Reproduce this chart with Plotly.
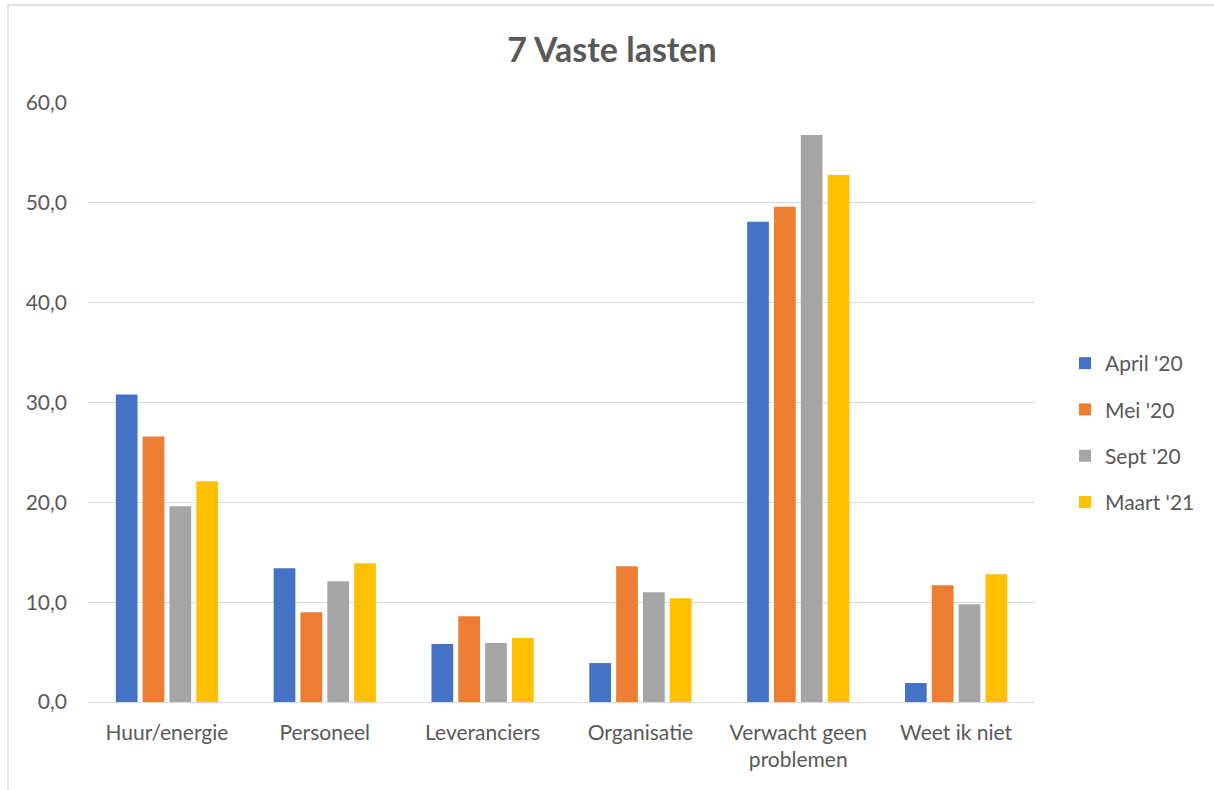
import plotly.graph_objects as go

categories = ['Huur/energie', 'Personeel', 'Leveranciers', 'Organisatie',
              'Verwacht geen<br>problemen', 'Weet ik niet']

april_20 = [30.8, 13.4, 5.8, 3.9, 48.1, 1.9]
mei_20 = [26.6, 9.0, 8.6, 13.6, 49.6, 11.7]
sept_20 = [19.6, 12.1, 5.9, 11.0, 56.8, 9.8]
maart_21 = [22.1, 13.9, 6.4, 10.4, 52.8, 12.8]

series_names = ["April '20", "Mei '20", "Sept '20", "Maart '21"]
colors = ['#4472C4', '#ED7D31', '#A5A5A5', '#FFC000']

font_family = 'Lato, Open Sans, sans-serif'
grey_text = '#595959'

W, H = 1214, 790
L, R, T, B = 88, 179, 103, 88
plot_w = W - L - R
plot_h = H - T - B

fig = go.Figure()
for name, vals, col in zip(series_names, [april_20, mei_20, sept_20, maart_21], colors):
    fig.add_trace(go.Bar(
        x=categories,
        y=vals,
        name=name,
        legendgroup=name,
        marker=dict(color=col, line=dict(width=0)),
        hovertemplate='%{x}: %{y:.1f}<extra>' + name + '</extra>',
    ))

fig.update_xaxes(
    showline=False,
    showgrid=False,
    ticks='',
    ticklabelstandoff=16,
    tickfont=dict(size=21, color=grey_text),
)

fig.update_yaxes(
    range=[0, 60],
    dtick=10,
    tickformat='.1f',
    showgrid=True,
    gridcolor='#d9d9d9',
    gridwidth=1,
    zeroline=True,
    zerolinecolor='#d9d9d9',
    zerolinewidth=1,
    showline=False,
    ticks='',
    ticklabelstandoff=20,
    tickfont=dict(size=21, color=grey_text),
)

# chart frame (left edge at 8px, top edge at 5px)
fig.add_shape(
    type='rect', xref='paper', yref='paper',
    x0=(8 - L) / plot_w, x1=(W + 20 - L) / plot_w,
    y0=(H - B - (H + 30)) / plot_h, y1=(H - B - 5) / plot_h,
    line=dict(color='#d9d9d9', width=1.5),
    fillcolor='rgba(0,0,0,0)',
    layer='below',
)

fig.update_layout(
    title=dict(
        text='<b>7 Vaste lasten</b>',
        x=612 / W, xanchor='center',
        y=1 - 50 / H, yanchor='middle',
        font=dict(size=34, color=grey_text, family=font_family),
    ),
    separators=',.',
    barmode='group',
    bargap=0.32,
    bargroupgap=0.19,
    paper_bgcolor='white',
    plot_bgcolor='white',
    width=W,
    height=H,
    margin=dict(l=L, r=R, t=T, b=B),
    font=dict(family=font_family, color=grey_text),
    legend=dict(
        x=(1065 - L) / plot_w, xanchor='left',
        y=(H - B - 433) / plot_h, yanchor='middle',
        font=dict(size=21, color=grey_text),
        tracegroupgap=16,
        itemwidth=30,
    ),
    showlegend=True,
)

fig.write_html('out.html', config={'displayModeBar': False},
               post_script="document.body.style.margin='0';")
